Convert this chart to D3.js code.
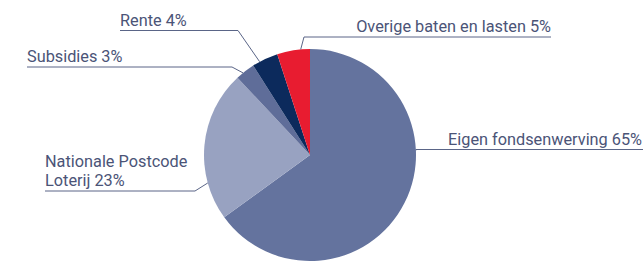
<!DOCTYPE html>
<html>
<head>
<meta charset="utf-8">
<script src="https://cdn.jsdelivr.net/npm/d3@7"></script>
<style>
  body { margin: 0; background: #fff; }
  svg text { font-family: Roboto, "Noto Sans", sans-serif; fill: #4b5477; }
</style>
</head>
<body>
<div id="chart"></div>
<script>
// data
const categories = ["Eigen fondsenwerving", "Nationale Postcode Loterij", "Subsidies", "Rente", "Overige baten en lasten"];
const values = [65, 23, 3, 4, 5];
const labelLines = [
    ["Eigen fondsenwerving 65%"],
    ["Nationale Postcode", "Loterij 23%"],
    ["Subsidies 3%"],
    ["Rente 4%"],
    ["Overige baten en lasten 5%"]
];
const colors = ["#64739e", "#98a2c1", "#5f6d99", "#0c2a5c", "#e81c30"];

// label layout: t = where the leader touches the slice, lineY = underline, x0/x1 = underline ends
const layout = [
    {t: 0.374, lineY: 149.5, x0: 643, x1: null, side: "end"},
    {t: 0.25, lineY: 191, x0: 45, x1: 195, side: "start"},
    {t: 0.37, lineY: 67, x0: 27, x1: 232, side: "start"},
    {t: 0.28, lineY: 30.5, x0: 120, x1: 238, side: "start"},
    {t: 0.72, lineY: 37, x0: 551, x1: 304, side: "end"}
];

const width = 643, height = 261;
const cx = 310, cy = 155, radius = 106;

const svg = d3.select("#chart").append("svg")
    .attr("width", width)
    .attr("height", height);

const pie = d3.pie().sort(null).value(d => d);
const arcs = pie(values);
const arc = d3.arc().innerRadius(0).outerRadius(radius);

const g = svg.append("g").attr("transform", "translate(" + cx + "," + cy + ")");

g.selectAll("path.slice")
    .data(arcs)
    .enter().append("path")
    .attr("class", "slice")
    .attr("d", arc)
    .attr("fill", (d, i) => colors[i]);

// leaders + labels
arcs.forEach((a, i) => {
    const L = layout[i];
    const ang = d3.interpolate(a.startAngle, a.endAngle)(L.t);
    const px = cx + radius * Math.sin(ang);
    const py = cy - radius * Math.cos(ang);
    const ex = L.x1 === null ? px : L.x1;

    svg.append("polyline")
        .attr("points", [[L.x0, L.lineY], [ex, L.lineY], [px, py]].map(p => p.join(",")).join(" "))
        .attr("fill", "none")
        .attr("stroke", "#5a6587")
        .attr("stroke-width", 1);

    const lines = labelLines[i];
    const tx = L.side === "end" ? (L.x0 === 643 ? 642 : L.x0) : L.x0;
    lines.forEach((s, k) => {
        svg.append("text")
            .attr("x", tx)
            .attr("y", L.lineY - 5 - (lines.length - 1 - k) * 19.5)
            .attr("text-anchor", L.side)
            .style("font-size", "16.3px")
            .text(s);
    });
});
</script>
</body>
</html>
